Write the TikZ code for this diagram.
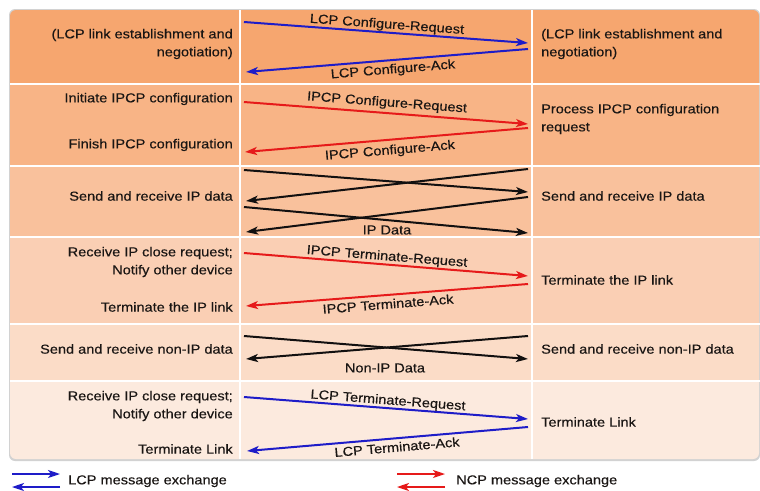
\documentclass[tikz,border=0pt]{standalone}
\usepackage{fontspec}
\setmainfont{Liberation Sans}[FakeStretch=1.12,FakeBold=0.3]
\usetikzlibrary{arrows.meta}
\definecolor{rowA}{RGB}{246,166,111}
\definecolor{rowB}{RGB}{248,180,134}
\definecolor{rowC}{RGB}{249,193,156}
\definecolor{rowD}{RGB}{250,207,180}
\definecolor{rowE}{RGB}{251,220,199}
\definecolor{rowF}{RGB}{252,234,222}
\definecolor{txt}{RGB}{26,22,20}
\definecolor{lcpblue}{RGB}{30,28,200}
\definecolor{ncpred}{RGB}{230,26,26}
\definecolor{datblack}{RGB}{18,16,16}
\begin{document}
\begin{tikzpicture}[x=1pt,y=-1pt,
  lt/.style={anchor=east,align=right,inner sep=0pt,text=txt,font=\fontsize{13}{18}\selectfont},
  rt/.style={anchor=west,align=left,inner sep=0pt,text=txt,font=\fontsize{13}{18}\selectfont},
  lab/.style={inner sep=0pt,text=txt,font=\fontsize{13}{18}\selectfont},
  arrbase/.style={line width=2pt,-{Stealth[length=12pt,width=8pt,inset=3pt]}},
  arrLCP/.style={arrbase,draw=lcpblue},
  arrNCP/.style={arrbase,draw=ncpred},
  arrDAT/.style={arrbase,draw=datblack},
  sep/.style={draw=white,line width=2pt}]
\useasboundingbox (0,0) rectangle (760,490);
% panel
\fill[gray!35,rounded corners=6pt] (9,9) rectangle (760,461);
\begin{scope}
\clip[rounded corners=6pt] (10,10) rectangle (759,459);
\fill[rowA] (10,10) rectangle (760,84);
\fill[rowB] (10,84) rectangle (760,166);
\fill[rowC] (10,166) rectangle (760,237);
\fill[rowD] (10,237) rectangle (760,324);
\fill[rowE] (10,324) rectangle (760,381);
\fill[rowF] (10,381) rectangle (760,460);
\end{scope}
\draw[sep] (10,84) -- (760,84);
\draw[sep] (10,166) -- (760,166);
\draw[sep] (10,237) -- (760,237);
\draw[sep] (10,324) -- (760,324);
\draw[sep] (10,381) -- (760,381);
\draw[sep] (240,10) -- (240,459);
\draw[sep] (532,10) -- (532,459);
% left texts
\node[lt] (l1) at (233,44) {(LCP link establishment and\\negotiation)};
\node[lt] (l2a) at (233,99) {Initiate IPCP configuration};
\node[lt] (l2b) at (233,145) {Finish IPCP configuration};
\node[lt] (l3) at (233,196) {Send and receive IP data};
\node[lt] (l4a) at (233,262) {Receive IP close request;\\Notify other device};
\node[lt] (l4b) at (233,307) {Terminate the IP link};
\node[lt] (l5) at (233,349) {Send and receive non-IP data};
\node[lt] (l6a) at (233,406) {Receive IP close request;\\Notify other device};
\node[lt] (l6b) at (233,449) {Terminate Link};
% right texts
\node[rt] (r1) at (541,44) {(LCP link establishment and\\negotiation)};
\node[rt] (r2) at (541,119) {Process IPCP configuration\\request};
\node[rt] (r3) at (541,196) {Send and receive IP data};
\node[rt] (r4) at (541,280) {Terminate the IP link};
\node[rt] (r5) at (541,349) {Send and receive non-IP data};
\node[rt] (r6) at (541,422) {Terminate Link};
% endpoints
\coordinate (a1s) at (244,22);  \coordinate (a1e) at (528,43);
\coordinate (b1s) at (528,49);  \coordinate (b1e) at (246,72);
\coordinate (a2s) at (244,102); \coordinate (a2e) at (528,124);
\coordinate (b2s) at (528,128); \coordinate (b2e) at (245,152);
\coordinate (c1s) at (244,170); \coordinate (c1e) at (528,192);
\coordinate (c2s) at (528,169); \coordinate (c2e) at (246,201);
\coordinate (c3s) at (244,207); \coordinate (c3e) at (528,233);
\coordinate (c4s) at (528,197); \coordinate (c4e) at (246,232);
\coordinate (a4s) at (244,253); \coordinate (a4e) at (528,276);
\coordinate (b4s) at (528,284); \coordinate (b4e) at (246,306);
\coordinate (d1s) at (244,336); \coordinate (d1e) at (528,359);
\coordinate (d2s) at (528,336); \coordinate (d2e) at (246,359);
\coordinate (a6s) at (244,397); \coordinate (a6e) at (528,419);
\coordinate (b6s) at (528,427); \coordinate (b6e) at (247,451);
% arrows
\draw[arrLCP] (a1s) -- (a1e);
\draw[arrLCP] (b1s) -- (b1e);
\draw[arrNCP] (a2s) -- (a2e);
\draw[arrNCP] (b2s) -- (b2e);
\draw[arrDAT] (c1s) -- (c1e);
\draw[arrDAT] (c2s) -- (c2e);
\draw[arrDAT] (c3s) -- (c3e);
\draw[arrDAT] (c4s) -- (c4e);
\draw[arrNCP] (a4s) -- (a4e);
\draw[arrNCP] (b4s) -- (b4e);
\draw[arrDAT] (d1s) -- (d1e);
\draw[arrDAT] (d2s) -- (d2e);
\draw[arrLCP] (a6s) -- (a6e);
\draw[arrLCP] (b6s) -- (b6e);
% labels
\node[lab,rotate=-4.2] (m1a) at (387,25) {LCP Configure-Request};
\node[lab,rotate=4.7] (m1b) at (393,70) {LCP Configure-Ack};
\node[lab,rotate=-4.4] (m2a) at (387,103) {IPCP Configure-Request};
\node[lab,rotate=4.8] (m2b) at (390,151) {IPCP Configure-Ack};
\node[lab] (m3) at (387,230) {IP Data};
\node[lab,rotate=-4.6] (m4a) at (387,257) {IPCP Terminate-Request};
\node[lab,rotate=4.5] (m4b) at (388,304) {IPCP Terminate-Ack};
\node[lab] (m5) at (385,368) {Non-IP Data};
\node[lab,rotate=-4.4] (m6a) at (388,401) {LCP Terminate-Request};
\node[lab,rotate=4.9] (m6b) at (397,447) {LCP Terminate-Ack};
% legend
\coordinate (g1s) at (12,474); \coordinate (g1e) at (60,474);
\coordinate (g2s) at (60,487); \coordinate (g2e) at (12,487);
\coordinate (g3s) at (397,474); \coordinate (g3e) at (445,474);
\coordinate (g4s) at (445,487); \coordinate (g4e) at (397,487);
\draw[arrLCP,line width=1.6pt] (g1s) -- (g1e);
\draw[arrLCP,line width=1.6pt] (g2s) -- (g2e);
\draw[arrNCP,line width=1.6pt] (g3s) -- (g3e);
\draw[arrNCP,line width=1.6pt] (g4s) -- (g4e);
\node[rt] (leg1) at (68,481) {LCP message exchange};
\node[rt] (leg2) at (456,481) {NCP message exchange};
\end{tikzpicture}
\end{document}
